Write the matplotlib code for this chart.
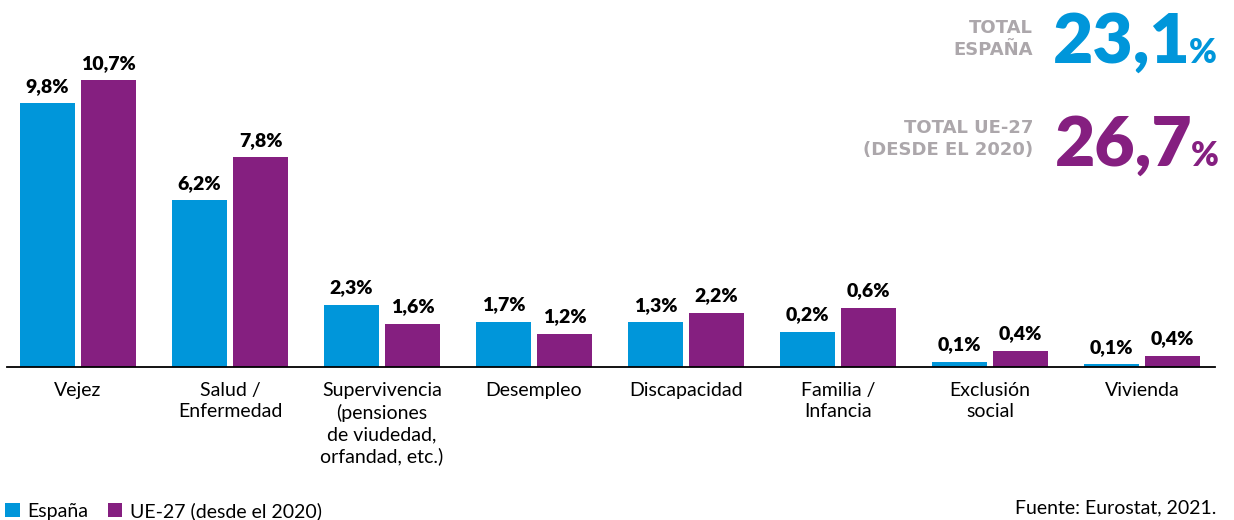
import numpy as np
import matplotlib.pyplot as plt

# datos (Eurostat, 2021) - % del PIB
categorias = ["Vejez", "Salud /\nEnfermedad", "Supervivencia\n(pensiones\nde viudedad,\norfandad, etc.)",
              "Desempleo", "Discapacidad", "Familia /\nInfancia", "Exclusión\nsocial", "Vivienda"]
valores_espana = [9.8, 6.2, 2.3, 1.7, 1.3, 0.2, 0.1, 0.1]
valores_ue = [10.7, 7.8, 1.6, 1.2, 2.2, 0.6, 0.4, 0.4]
# alturas tal como aparecen dibujadas en el grafico original
alturas_espana = [9.8, 6.2, 2.32, 1.68, 1.66, 1.31, 0.2, 0.11]
alturas_ue = [10.67, 7.8, 1.61, 1.24, 2.02, 2.2, 0.6, 0.42]
total_espana = "23,1"
total_ue = "26,7"

AZUL = "#0096DA"
MORADO = "#851F80"
GRIS = "#ACA7AB"

plt.rcParams['font.family'] = ['Lato', 'DejaVu Sans']

W, H = 1234, 520
fig = plt.figure(figsize=(W / 100, H / 100), dpi=100)
base = 367
arriba = 60
ax = fig.add_axes([7 / W, (H - base) / H, (1215 - 7) / W, (base - arriba) / H])

x = np.arange(len(categorias))
ancho = 55 / 152
desp = 30.5 / 152
b1 = ax.bar(x - desp, alturas_espana, ancho, color=AZUL, label="España")
b2 = ax.bar(x + desp, alturas_ue, ancho, color=MORADO, label="UE-27 (desde el 2020)")

def fmt(v):
    return ("%.1f%%" % v).replace(".", ",")

for barras, vals in ((b1, valores_espana), (b2, valores_ue)):
    for b, v in zip(barras, vals):
        ax.annotate(fmt(v), (b.get_x() + b.get_width() / 2, b.get_height()),
                    xytext=(0, 6), textcoords="offset points", ha="center", va="bottom",
                    fontsize=14, fontweight="heavy", color="black")

ax.set_xlim(-71 / 152, 7 + 73 / 152)
ax.set_ylim(0, (base - arriba) / 26.9)
ax.set_xticks(x)
ax.set_xticklabels(categorias, fontsize=14, linespacing=1.3)
ax.tick_params(axis="x", length=0, pad=11)
ax.set_yticks([])
for s in ("top", "right", "left"):
    ax.spines[s].set_visible(False)
ax.spines["bottom"].set_linewidth(1.3)

# totales
fig.text(1033 / W, 1 - 39 / H, "TOTAL\nESPAÑA", ha="right", va="center", fontsize=13,
         fontweight="bold", color=GRIS, linespacing=1.35, family="DejaVu Sans")
t1 = fig.text(1053 / W, 1 - 63 / H, total_espana, ha="left", va="baseline", fontsize=50,
              fontweight="heavy", color=AZUL)
fig.text(1033 / W, 1 - 139 / H, "TOTAL UE-27\n(DESDE EL 2020)", ha="right", va="center",
         fontsize=13, fontweight="bold", color=GRIS, linespacing=1.35, family="DejaVu Sans")
t2 = fig.text(1055 / W, 1 - 166 / H, total_ue, ha="left", va="baseline", fontsize=50,
              fontweight="heavy", color=MORADO)

# simbolo % pegado a la derecha de cada total
fig.canvas.draw()
r = fig.canvas.get_renderer()
for t, col in ((t1, AZUL), (t2, MORADO)):
    bb = t.get_window_extent(r)
    fig.text((bb.x1 - 2) / W, t.get_position()[1], "%", ha="left", va="baseline", fontsize=24,
             fontweight="heavy", color=col)

fig.legend(handles=[b1, b2], loc="lower left", bbox_to_anchor=(0.004, 0.0), ncol=2, frameon=False,
           fontsize=14, handlelength=0.75, handleheight=0.75, handletextpad=0.4,
           columnspacing=1.0, borderaxespad=0, borderpad=0)
fig.text(1216 / W, 1 - 508 / H, "Fuente: Eurostat, 2021.", ha="right", va="center", fontsize=14)

fig.savefig("out.png", dpi=100)
